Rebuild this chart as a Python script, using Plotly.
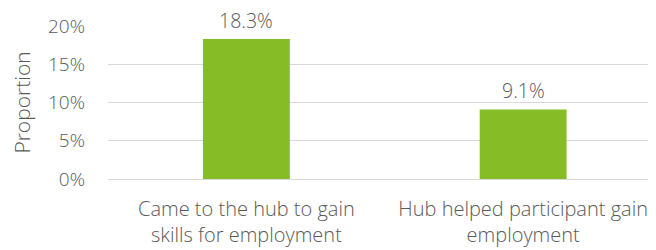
import plotly.graph_objects as go

categories = ["Came to the hub to gain<br>skills for employment", "Hub helped participant gain<br>employment"]
values = [0.183, 0.091]
labels = ["18.3%", "9.1%"]
tick_vals = [0, 0.05, 0.10, 0.15, 0.20]
tick_text = ["0%", "5%", "10%", "15%", "20%"]

FONT = "Open Sans"
GRAY = "#595959"

fig = go.Figure(go.Bar(x=categories, y=values, marker=dict(color="#86BC25", line=dict(width=0)),
                       hoverinfo="skip"))

for c, v, t in zip(categories, values, labels):
    fig.add_annotation(x=c, y=v, text=t, showarrow=False, yanchor="bottom", yshift=4, borderpad=0,
                       font=dict(family=FONT, size=19.5, color=GRAY, weight=300))

# the page adds an 8px body margin, so the figure is sized to fit the 656x250 window
fig.update_layout(
    width=648, height=242,
    margin=dict(l=100, r=0, t=18, b=71),
    plot_bgcolor="white", paper_bgcolor="white",
    bargap=0.686,
    showlegend=False,
    font=dict(family=FONT, size=19, color=GRAY, weight=300),
)
fig.update_yaxes(range=[0, 0.2], tickvals=tick_vals, ticktext=tick_text, automargin=False,
                 showgrid=True, gridcolor="#D9D9D9", gridwidth=1.3, zeroline=False,
                 showline=False, ticks="", ticklabelstandoff=22,
                 title=dict(text="Proportion", standoff=14, font=dict(size=21, color=GRAY)),
                 tickfont=dict(size=19, color=GRAY))
fig.update_xaxes(range=[-0.5, 1.48], automargin=False,
                 showline=True, linecolor="#D9D9D9", linewidth=1.3, ticks="",
                 tickfont=dict(size=20, color=GRAY), ticklabelstandoff=12)

fig.write_html("out.html")
